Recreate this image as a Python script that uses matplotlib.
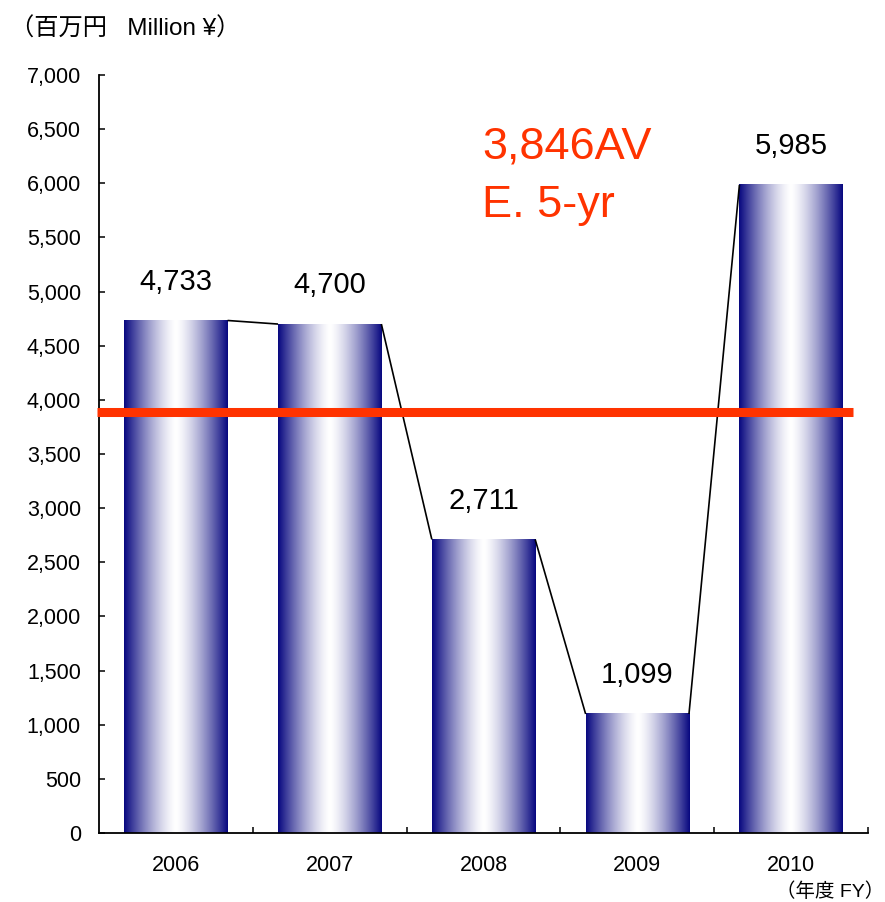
import numpy as np
import matplotlib
matplotlib.use("Agg")
import matplotlib.pyplot as plt

years = ["2006", "2007", "2008", "2009", "2010"]
values = [4733, 4700, 2711, 1099, 5985]
value_labels = ["4,733", "4,700", "2,711", "1,099", "5,985"]
avg_line = 3890
avg_text = ["3,846AV", "E. 5-yr"]
yticks = list(range(0, 7001, 500))
ytick_labels = [f"{v:,}" for v in yticks]

LAT = ["Liberation Sans", "Noto Sans CJK JP", "DejaVu Sans"]
plt.rcParams["font.family"] = LAT

W, H = 885, 902
fig = plt.figure(figsize=(W / 100, H / 100), dpi=100)
ax = fig.add_axes([99 / W, 1 - 833 / H, (868 - 99) / W, (833 - 75) / H])

ax.set_xlim(-0.5, 4.5)
ax.set_ylim(0, 7000)

navy = np.array([0.03, 0.03, 0.50])
white = np.array([1.0, 1.0, 1.0])
n = 256
t = np.abs(np.linspace(-1, 1, n))
grad = white[None, :] + (navy - white)[None, :] * (t[:, None] ** 1.4)
img = grad[None, :, :]

hw = 0.336
for i, v in enumerate(values):
    ax.imshow(img, extent=(i - hw, i + hw, 0, v), aspect="auto",
              interpolation="bilinear", zorder=2)

# connector lines
for i in range(len(values) - 1):
    ax.plot([i + hw, i + 1 - hw], [values[i], values[i + 1]], color="black",
            lw=1.2, zorder=3, solid_capstyle="butt")

# average line
ax.plot([-0.516, 4.402], [avg_line, avg_line], color="#FF3300", lw=6.5,
        zorder=4, clip_on=False, solid_capstyle="butt")

for i, (v, lab) in enumerate(zip(values, value_labels)):
    ax.text(i, v + 285, lab, ha="center", va="baseline", fontsize=21,
            color="black", zorder=5)

ax.text(1.99, 6233, avg_text[0], ha="left", va="baseline", fontsize=32.5,
        color="#FF3300", zorder=5)
ax.text(1.99, 5688, avg_text[1], ha="left", va="baseline", fontsize=32.5,
        color="#FF3300", zorder=5)

ax.set_xticks(range(len(years)))
ax.set_xticklabels(years, fontsize=15.5)
ax.set_xticks([0.5, 1.5, 2.5, 3.5, 4.5], minor=True)
ax.tick_params(axis="x", which="major", length=0, pad=16)
ax.tick_params(axis="x", which="minor", direction="in", length=4.3, width=1.1)
ax.set_yticks(yticks)
ax.set_yticklabels(ytick_labels, fontsize=15.5)
ax.tick_params(axis="y", direction="in", length=4.3, width=1.1, pad=13)

for s in ["top", "right"]:
    ax.spines[s].set_visible(False)
for s in ["left", "bottom"]:
    ax.spines[s].set_linewidth(1.3)
    ax.spines[s].set_color("black")

fig.text(10 / W, 1 - 36 / H, "（百万円   Million ¥）", ha="left", va="baseline",
         fontsize=17.5)
fig.text(776 / W, 1 - 897 / H, "（年度 FY）", ha="left", va="baseline",
         fontsize=14)

fig.savefig("out.png", dpi=100)
